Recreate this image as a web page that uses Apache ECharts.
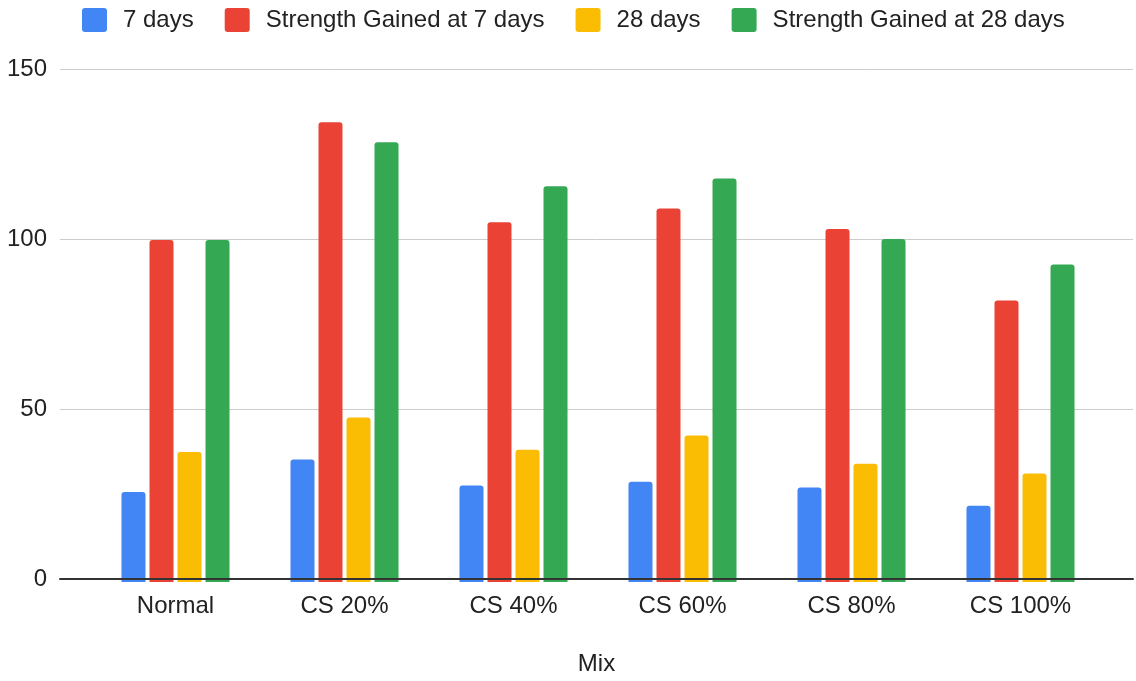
<!DOCTYPE html>
<html>
<head>
<meta charset="utf-8">
<script src="https://cdn.jsdelivr.net/npm/echarts@6/dist/echarts.min.js"></script>
<style>
  html, body { margin: 0; padding: 0; background: #fff; }
  #chart { width: 1136px; height: 681px; }
</style>
</head>
<body>
<div id="chart"></div>
<script>
// Compressive strength by mix
const categories = ['Normal', 'CS 20%', 'CS 40%', 'CS 60%', 'CS 80%', 'CS 100%'];
const days7 = [26.3, 35.8, 28.2, 29.3, 27.6, 22.3];
const gained7 = [100, 134.4, 105.2, 109.2, 103.2, 82.3];
const days28 = [38.0, 48.1, 38.7, 42.8, 34.6, 31.7];
const gained28 = [100, 128.6, 115.7, 118.0, 100.3, 92.8];
const seriesNames = ['7 days', 'Strength Gained at 7 days', '28 days', 'Strength Gained at 28 days'];
const colors = ['#4285F4', '#EA4335', '#FBBC04', '#34A853'];
const yTicks = [0, 50, 100, 150];

const FONT = '"Liberation Sans", Arial, sans-serif';
const FS = 24;
const TXT = '#222222';
// small-radius rounded square for legend swatches
const SWATCH = 'path://M3,0H22A3,3,0,0,1,25,3V21A3,3,0,0,1,22,24H3A3,3,0,0,1,0,21V3A3,3,0,0,1,3,0Z';
const chart = echarts.init(document.getElementById('chart'));

const barSeries = [days7, gained7, days28, gained28].map((vals, i) => ({
  name: seriesNames[i],
  type: 'bar',
  xAxisIndex: 1,
  yAxisIndex: 1,
  data: vals,
  barWidth: 24,
  barGap: '16.7%',
  itemStyle: { color: colors[i], borderRadius: [3, 3, 0, 0] }
}));

chart.setOption({
  animation: false,
  color: colors,
  legend: {
    top: 8,
    left: 82,
    padding: 0,
    itemWidth: 25,
    itemHeight: 24,
    itemGap: 31,
    icon: SWATCH,
    textStyle: { fontFamily: FONT, fontSize: FS, color: TXT, padding: [0, 0, 0, 11] },
    data: seriesNames
  },
  grid: [
    { left: 60, right: 3, top: 69, bottom: 99 },
    { left: 91, right: 31, top: 69, bottom: 99 }
  ],
  xAxis: [
    {
      type: 'category',
      gridIndex: 0,
      data: categories,
      z: 10,
      axisLine: { show: true, lineStyle: { color: '#333', width: 2 } },
      axisTick: { show: false },
      axisLabel: { show: false },
      name: 'Mix',
      nameLocation: 'middle',
      nameGap: 73,
      nameTextStyle: { fontFamily: FONT, fontSize: FS, color: TXT }
    },
    {
      type: 'category',
      gridIndex: 1,
      data: categories,
      axisLine: { show: false },
      axisTick: { show: false },
      axisLabel: { fontFamily: FONT, fontSize: FS, color: TXT, margin: 12 }
    }
  ],
  yAxis: [
    {
      type: 'value',
      gridIndex: 0,
      min: yTicks[0],
      max: yTicks[yTicks.length - 1],
      interval: 50,
      axisLine: { show: false },
      axisTick: { show: false },
      axisLabel: { fontFamily: FONT, fontSize: FS, color: TXT, margin: 13 },
      splitLine: { lineStyle: { color: '#cccccc', width: 1 } }
    },
    {
      type: 'value',
      gridIndex: 1,
      min: yTicks[0],
      max: yTicks[yTicks.length - 1],
      interval: 50,
      axisLine: { show: false },
      axisTick: { show: false },
      axisLabel: { show: false },
      splitLine: { show: false }
    }
  ],
  series: barSeries
});
</script>
</body>
</html>
